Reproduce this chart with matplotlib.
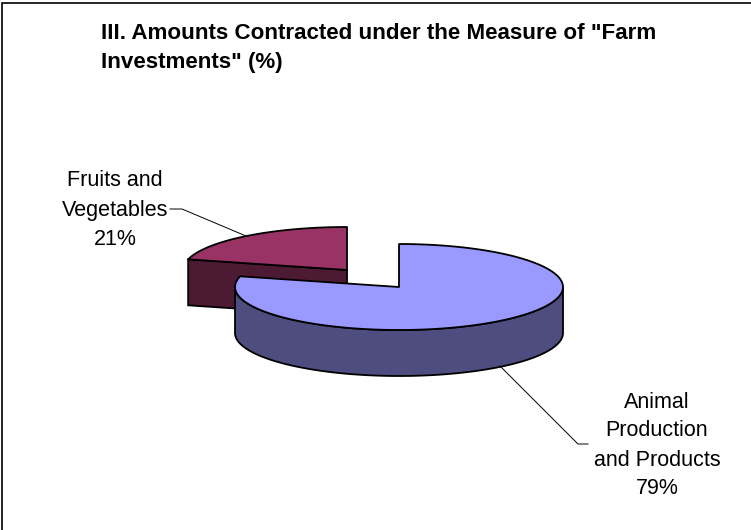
import numpy as np
import matplotlib
matplotlib.use("Agg")
import matplotlib.pyplot as plt
from matplotlib.patches import Polygon

plt.rcParams['font.family'] = ['Liberation Sans', 'DejaVu Sans']

title_lines = ['III. Amounts Contracted under the Measure of "Farm', 'Investments" (%)']
names = ['Animal\nProduction\nand Products', 'Fruits and\nVegetables']
shares = [79, 21]
top_colors = ['#9999FF', '#993366']
side_colors = ['#4D4D80', '#4D1A33']

# pie geometry, in pixels
rx = 164
ry = 43
depth = 46
centers = [(399, 287), (347, 270)]


def ell(cx, cy, t):
    return np.column_stack([cx + rx * np.sin(t), cy - ry * np.cos(t)])


fig = plt.figure(figsize=(7.51, 5.30), dpi=100)
ax = fig.add_axes([0, 0, 1, 1])
ax.set_xlim(0, 751)
ax.set_ylim(530, 0)
ax.axis('off')

# frame: only left and top show
ax.plot([1.5, 1.5, 751], [530, 2.5, 2.5], color='black', lw=1.2, solid_joinstyle='miter')

edges = np.concatenate([[0], np.cumsum(shares)]) / np.sum(shares) * 2 * np.pi
lw = 1.3

# small slice first, big one overlaps it
for i in [1, 0]:
    cx, cy = centers[i]
    t0, t1 = edges[i], edges[i + 1]
    t = np.linspace(t0, t1, 200)
    rim = ell(cx, cy, t)
    if i == 0:
        # outer wall, front half of the rim
        tw = np.linspace(np.pi / 2, 3 * np.pi / 2, 200)
        up = ell(cx, cy, tw)
        down = up + [0, depth]
        ax.add_patch(Polygon(np.vstack([up, down[::-1]]), closed=True, fc=side_colors[i],
                             ec='black', lw=lw, zorder=2))
    else:
        # cut face seen from the front
        corner = ell(cx, cy, np.array([t0]))[0]
        ax.add_patch(Polygon([corner, (cx, cy), (cx, cy + depth), corner + [0, depth]], closed=True,
                             fc=side_colors[i], ec='black', lw=lw, zorder=1))
    ax.add_patch(Polygon(np.vstack([[(cx, cy)], rim]), closed=True, fc=top_colors[i],
                         ec='black', lw=lw, joinstyle='round', zorder=3 if i == 0 else 1.5))

# leader lines
ax.plot([170, 182, 246], [209, 209, 236], color='black', lw=0.7, zorder=4)
ax.plot([500, 578, 588], [366, 444, 444], color='black', lw=0.7, zorder=4)

# title
ax.text(101, 33.5, title_lines[0], fontsize=16.15, fontweight='bold', va='center', ha='left')
ax.text(101, 62.5, title_lines[1], fontsize=16.15, fontweight='bold', va='center', ha='left')

# labels, anchored on the baseline so every line sits the same way
label_fs = 15.5
ax.text(115, 186, 'Fruits and', fontsize=label_fs, ha='center', va='baseline')
ax.text(115, 216, 'Vegetables', fontsize=label_fs, ha='center', va='baseline')
ax.text(115, 245, '%d%%' % shares[1], fontsize=label_fs, ha='center', va='baseline')
for y, s in zip([407.5, 436, 465.5], names[0].split('\n')):
    ax.text(657, y, s, fontsize=label_fs, ha='center', va='baseline')
ax.text(657, 494, '%d%%' % shares[0], fontsize=label_fs, ha='center', va='baseline')

fig.savefig('out.png', dpi=100)
